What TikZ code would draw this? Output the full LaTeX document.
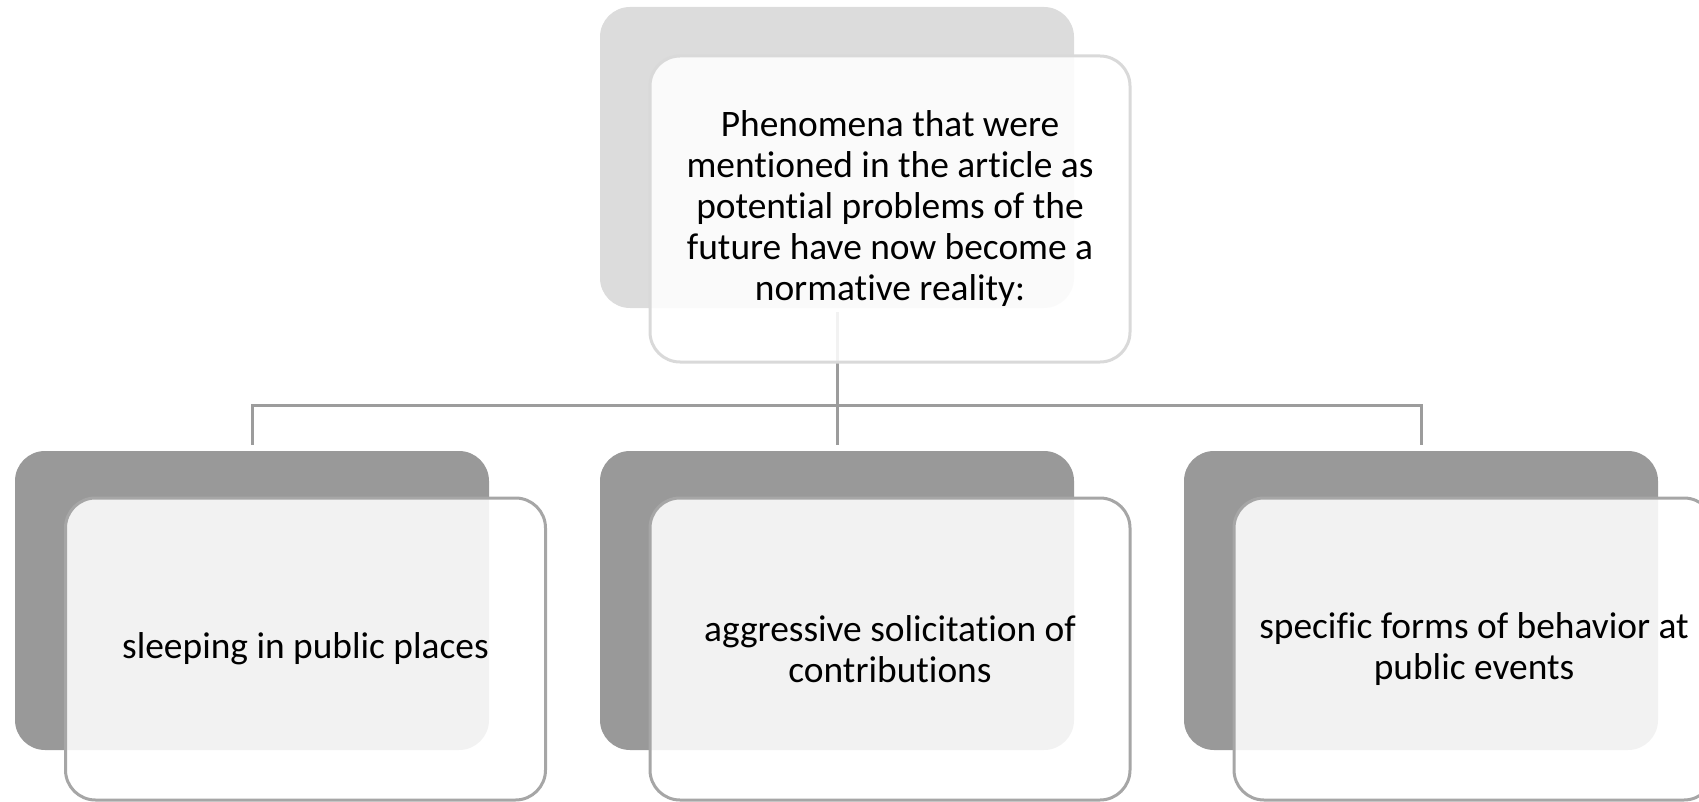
\documentclass[tikz,border=0pt]{standalone}
\usepackage{fontspec}
\setmainfont[Ligatures=NoCommon]{Carlito}
\definecolor{backlight}{HTML}{DCDCDC}
\definecolor{backdark}{HTML}{999999}
\definecolor{linegray}{HTML}{9C9C9C}
\definecolor{edgelight}{HTML}{D9D9D9}
\definecolor{edgedark}{HTML}{A6A6A6}
\begin{document}
\begin{tikzpicture}[x=1pt,y=-1pt,
  backbox/.style={rectangle, rounded corners=30pt, minimum width=474pt, inner sep=0pt},
  frontbox/.style={rectangle, rounded corners=30pt, fill=white, fill opacity=0.88, text opacity=1,
    line width=3pt, minimum width=480pt, inner sep=0pt, align=center,
    font=\fontsize{37.4}{41}\selectfont},
  conn/.style={draw=linegray, line width=3pt}]
\clip (0,0) rectangle (1699,802);
% back shapes
\node[backbox, fill=backlight, minimum height=301pt] (tb) at (837,157.5) {};
\node[backbox, fill=backdark, minimum height=299pt] (l1b) at (252,600.5) {};
\node[backbox, fill=backdark, minimum height=299pt] (l2b) at (837,600.5) {};
\node[backbox, fill=backdark, minimum height=299pt] (l3b) at (1421,600.5) {};
% connectors
\coordinate (hub) at (837,405);
\draw[conn] ([yshift=-4pt]tb.south) -- ([yshift=6pt]l2b.north);
\draw[conn] ([yshift=6pt]l1b.north) |- (hub) -| ([yshift=6pt]l3b.north);
% front shapes
\node[frontbox, draw=edgelight, minimum height=306pt] (tf) at (890,209)
  {Phenomena that were\\ mentioned in the article as\\ potential problems of the\\ future have now become a\\ normative reality:};
\node[frontbox, draw=edgedark, minimum height=302pt] (l1f) at (305.5,649)
  {sleeping in public places};
\node[frontbox, draw=edgedark, minimum height=302pt] (l2f) at (890,649)
  {aggressive solicitation of\\ contributions};
\node[frontbox, draw=edgedark, minimum height=302pt] (l3f) at (1474,649)
  {specific forms of behavior at\\ public events};
\end{tikzpicture}
\end{document}
